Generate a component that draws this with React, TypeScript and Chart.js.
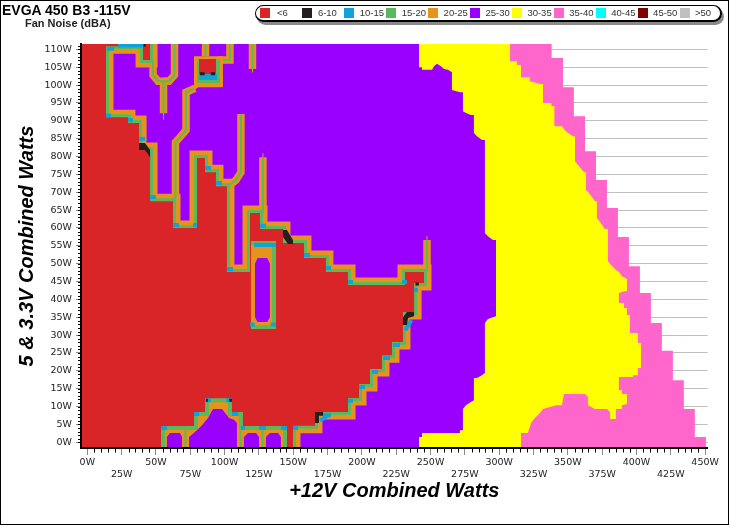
import React, { useEffect, useRef } from "react";
import { Chart, registerables } from "chart.js";

Chart.register(...registerables);

type P = number[];

const legendLabels = ["<6", "6-10", "10-15", "15-20", "20-25", "25-30", "30-35", "35-40", "40-45", "45-50", ">50"];
const legendColors = ["#d92528", "#231f20", "#0fa3d8", "#5cb85c", "#e8921e", "#9900ff", "#ffff00", "#ff66cc", "#00ffff", "#800000", "#c0c0c0"];
const [RED, BLACK, BLUE, GREEN, ORANGE, PURPLE, YELLOW, PINK] = legendColors;

const X_MIN = -4.6, X_MAX = 451.8, Y_MIN = -1.6, Y_MAX = 111.5;

const pinkEdge: P[] = [[450.6,-1.6],[450.6,1.5],[442.5,1.5],[442.5,9.3],[434.5,9.3],[434.5,17.4],[426.5,17.4],[426.5,25.6],[418.5,25.6],[418.5,33.4],[410.5,33.4],[410.5,41.8],[402.5,41.8],[402.5,49.3],[394.5,49.3],[394.5,57.5],[386.5,57.5],[386.5,65.6],[378.5,65.6],[378.5,73.4],[370.5,73.4],[370.5,81.5],[362.5,81.5],[362.5,91.3],[354.4,91.3],[354.4,99.4],[346.5,99.4],[346.5,107.6],[338.2,107.6],[338.2,111.5]];

const yellowEdge: P[] = [[320.9,-1.6],[315.9,-1.6],[315.9,2.6],[320.9,2.6],[323.2,5.4],[325.3,6.5],[329.7,8.2],[331.9,9.3],[341.4,10.4],[345.7,10.4],[347.2,13.5],[362.5,13.5],[364.7,12.7],[364.7,10.4],[369.8,9.3],[378.5,9.3],[380.7,8.5],[380.7,6.5],[385,6.5],[385,9.3],[389.4,9.3],[389.4,10.4],[393.1,10.7],[393.1,13.5],[389.4,13.5],[389.4,14.6],[387.2,14.6],[387.2,18.3],[397.4,18.3],[397.4,18.8],[401,18.8],[401,20.8],[403.3,20.8],[403.3,27.8],[401,27.8],[401,30.6],[395.2,30.6],[395.2,35.6],[393.1,35.6],[393.1,37.6],[390.9,37.6],[390.9,39],[387.2,39],[387.2,41.8],[390.9,42.3],[393.1,42.3],[393.1,45.7],[389.4,46.5],[387.2,47.7],[385,48.2],[381.4,49.6],[379.2,50.7],[379.2,59.7],[377,59.7],[373.4,61.7],[371.2,62.8],[371.2,67.5],[369.8,67.5],[365.4,69.8],[363.2,70.6],[363.2,75.6],[361.8,75.6],[357.4,77.6],[355.2,78.7],[355.2,85.7],[353.8,85.7],[349.4,86.8],[347.2,87.7],[345.7,88.5],[340.2,88.5],[340.2,94.1],[338,94.1],[338,95],[331.9,95],[331.9,100.3],[329.7,100.3],[322.4,101.1],[322.4,102.2],[315.9,102.2],[315.9,105.6],[313,105.6],[313,106.7],[307.9,106.7],[307.9,111.5]];

const purpleEdge: P[] = [[241.6,-1.6],[241.6,1.5],[243.8,1.5],[243.8,2.6],[271.4,2.6],[271.4,3.4],[273.6,3.4],[273.6,9.3],[275.8,10.4],[279.4,11.3],[281.6,11.8],[281.6,18],[283.8,18],[287.5,18.8],[289.6,19.4],[289.6,33.4],[291.8,34.5],[295.5,35],[297.7,35.3],[297.7,56.6],[295.5,56.6],[291.8,57.7],[289.6,58.6],[289.6,84.6],[287.5,84.6],[283.8,85.7],[281.6,86.6],[281.6,91.6],[279.4,91.6],[275.8,92.2],[273.6,92.7],[273.6,98],[271.4,98],[265.6,98.6],[265.6,103.6],[262.7,104.3],[259.8,104.5],[257.6,105.3],[254.7,106],[252.5,105.3],[251.1,104.3],[243.8,104.3],[243.8,105],[241.6,105],[241.6,111.5]];

const redEdge: P[] = [[45.7,111.5],[45.7,107],[40.6,107],[40.6,110.9],[13.6,110.9],[13.6,91],[29.6,91],[29.6,89.4],[37.7,89.4],[37.7,81.8],[45.7,81.8],[45.7,67.5],[62.4,67.5],[62.4,60],[79.9,60],[79.9,79.6],[85.7,79.6],[85.7,75.6],[93.7,75.6],[93.7,71.7],[101.7,71.7],[101.7,47.7],[118.5,47.7],[118.5,64.2],[125.8,64.2],[125.8,59.7],[142.5,59.7],[142.5,55.8],[157.8,55.8],[157.8,51.6],[173.8,51.6],[173.8,47.7],[189.9,47.7],[189.9,44],[231.4,44],[231.4,47.7],[245.2,47.7],[245.2,44.6],[238,44.6],[238,36.5],[229.9,36.5],[229.9,28.1],[221.9,28.1],[221.9,24.4],[214.6,24.4],[214.6,20.5],[205.9,20.5],[205.9,16.3],[197.9,16.3],[197.9,12.4],[189.9,12.4],[189.9,8.5],[165.8,8.5],[165.8,4.6],[149.8,4.6],[149.8,-1.6]];

const spikes: P[][] = [
  [[47.9,107],[47.9,102.8],[51.5,101.1],[55.5,101.1],[55.5,92.1]],
  [[63.5,111.5],[63.5,102.8],[59.5,101.1],[55.5,101.1]],
  [[78.4,99.1],[71.9,98],[71.9,87.4],[68.2,85.7],[64.2,84],[64.2,67.5]],
  [[111.9,91.9],[111.9,75.6],[108.3,73.4],[102.5,71.7]],
  [[120.3,111.5],[120.3,104.5]],
  [[127.9,79.8],[127.9,64.2]],
  [[247.4,56.6],[247.4,47.7]],
  [[86.1,111.5],[86.1,108.1]],
  [[103.9,111.5],[103.9,107],[95,107]],
];
const spikeTails: P[][] = [
  [[55.5,92.1],[55.5,90.4]],
  [[120.3,104.5],[120.3,103.6]],
  [[127.9,79.8],[127.9,81]],
  [[247.4,56.6],[247.4,57.8]],
];

const topPatchOuter: P[] = [[77.7,108.1],[98.8,108.1],[98.8,99.4],[81,99.4],[77.7,98.6]];
const topPatchGreen: P[] = [[79.9,107.3],[96.6,107.3],[96.6,100.6],[79.9,100.6]];
const topPatchBlue: P[] = [[81.4,103.1],[94.5,103.1],[94.5,101.4],[81.4,101.4]];
const topPatchRed: P[] = [[81.4,107.3],[93.7,107.3],[93.7,103.1],[81.4,103.1]];

const islandOuter: P[] = [[119.2,55.8],[136,55.8],[136,32.3],[119.2,32.3]];
const islandInner: P[] = [[122.1,50],[124,51.6],[131,51.6],[133,50],[133,35],[131,33.7],[124,33.7],[122.1,35]];

const humpsOuter: P[] = [[55.1,-1.6],[55.1,4],[79.2,4],[79.2,7.9],[87.2,7.9],[87.2,11.8],[103.9,11.8],[103.9,7.9],[111.9,7.9],[111.9,4],[144,4],[144,-1.6]];
const humpInners: P[][] = [
  [[58,-1.6],[58,1.5],[60.2,2.6],[67.5,2.6],[69,1.5],[69,-1.6]],
  [[74.1,-1.6],[74.1,1.5],[79.9,3.4],[83.5,4.8],[87.9,6.8],[91.5,9.3],[98.1,9.3],[101.7,7.6],[103.2,6.8],[106.8,6.3],[109,5.4],[109,-1.6]],
  [[114.1,-1.6],[114.1,1.5],[117,2.6],[122.9,2.6],[125.1,1.5],[125.1,-1.6]],
  [[130.1,-1.6],[130.1,1.5],[133,2.6],[138.9,2.6],[141,1.5],[141,-1.6]],
];
const humpDividers: P[][] = [
  [[71.5,3.4],[71.5,-1.6]],
  [[111.6,3.4],[111.6,-1.6]],
  [[127.6,3.4],[127.6,-1.6]],
];

const blueMarks: P[][] = [
  [[22.4,111.1],[40.6,111.1]], [[14.3,110.2],[19.4,110.2]], [[13.6,91.5],[17.3,91.5]],
  [[29.6,90.2],[33.3,90.2]], [[37.7,84.9],[42,84.9]], [[45.7,68.7],[50,68.7]],
  [[62.4,60.8],[66.8,60.8]], [[77,60.8],[79.9,60.8]], [[85.7,76.8],[90.1,76.8]],
  [[93.7,72.6],[98.1,72.6]], [[101.7,48.5],[106.1,48.5]], [[125.8,60.6],[130.1,60.6]],
  [[157.8,52.4],[162.2,52.4]], [[173.8,48.8],[177.5,48.8]], [[189.9,44.9],[193.5,44.9]],
  [[229.2,44.9],[232.8,44.9]], [[238,42.6],[240.9,42.6]], [[231.6,31.4],[236,34.2]],
  [[222.6,27.2],[227.7,27.2]], [[215.4,23.6],[220.5,23.6]], [[207.3,19.7],[211.7,19.7]],
  [[197.9,15.5],[202.2,15.5]], [[189.9,11.6],[193.5,11.6]], [[171.7,7.6],[177.5,7.6]],
  [[169.5,6],[175,7.5]], [[149.8,4],[153.4,4]], [[53.7,4],[58,4]],
  [[77.7,7.9],[81.4,7.9]], [[85.7,11.8],[90.1,11.8]], [[101,11.8],[105.4,11.8]],
  [[105.4,7.9],[109.8,7.9]], [[111.9,4],[115,4]], [[125,4],[130.1,4]], [[141,4],[145.4,4]],
  [[121.4,55.2],[137.4,55.2]], [[118.5,33],[122,33]], [[133.5,33],[137.4,33]],
];
const blackWedges: P[][] = [
  [[37.7,83.8],[42,83.8],[45.7,81.8],[45.7,79.8],[42,81.8],[37.7,81.8]],
  [[142.5,59.4],[145.4,59.4],[149.8,56.6],[149.8,55.5],[146.2,55.5],[142.5,57.5]],
  [[229.9,32.8],[229.9,35],[232.8,36.5],[238,36.5],[238,35.3],[233.6,34.8],[232.8,32.8]],
  [[165.8,8.5],[171.7,8.5],[171.7,7.4],[168.7,7.4],[168.7,5.4],[165.8,5.4]],
];
const blackMarks: P[][] = [
  [[86.5,11.8],[87.9,11.8]], [[103.2,11.8],[105.4,11.8]],
  [[239,44.3],[241.5,44.3]], [[41,111.2],[42.5,111.2]], [[82,103.2],[85.5,103.2]], [[90,103.2],[93,103.2]],
];

const tickRows = (v: number): string | string[] => {
  if (v % 25 !== 0) return "";
  return v % 50 === 0 ? `${v}W` : ["", `${v}W`];
};

const toXY = (pts: P[]) => pts.map(([x, y]) => ({ x, y }));
const breakJoin = (marks: P[][]) => marks.flatMap((m) => [...m, [NaN, NaN]]);

const area = (label: string, pts: P[], color: string, stroke = 0, strokeColor = color) => ({
  label, data: toXY(pts), showLine: true, pointRadius: 0, clip: 0, tension: 0,
  fill: "shape", backgroundColor: color, borderColor: strokeColor, borderWidth: stroke,
  borderJoinStyle: "miter", borderCapStyle: "butt", spanGaps: false,
});
const stroke = (label: string, pts: P[], color: string, width: number) => ({
  label, data: toXY(pts), showLine: true, pointRadius: 0, clip: 0, tension: 0, fill: false,
  borderColor: color, backgroundColor: color, borderWidth: width,
  borderJoinStyle: "miter", borderCapStyle: "butt", spanGaps: false,
});

const minorTicks = {
  id: "minorTicks",
  afterDraw(chart: any) {
    const { ctx, scales } = chart;
    const { x, y } = scales;
    ctx.save();
    ctx.strokeStyle = "#000";
    ctx.lineWidth = 1;
    ctx.beginPath();
    for (let v = 5; v <= 450; v += 5) {
      if (v % 25 === 0) continue;
      const px = Math.round(x.getPixelForValue(v)) + 0.5;
      ctx.moveTo(px, y.bottom);
      ctx.lineTo(px, y.bottom + 4.5);
    }
    for (let v = 0; v <= 111; v += 1) {
      const py = Math.round(y.getPixelForValue(v)) + 0.5;
      ctx.moveTo(x.left - 3, py);
      ctx.lineTo(x.left, py);
    }
    ctx.stroke();
    ctx.restore();
  },
};

export default function App() {
  const ref = useRef<HTMLCanvasElement | null>(null);
  useEffect(() => {
    if (!ref.current) return;
    const fullLeft: P[] = [[X_MIN, Y_MAX], [X_MIN, Y_MIN]];
    const layers: any[] = [
      area("35-40", [...pinkEdge, ...fullLeft], PINK),
      area("30-35", [...yellowEdge, ...fullLeft], YELLOW),
      area("25-30", [...purpleEdge, ...fullLeft], PURPLE),
      ...spikes.map((s, i) => stroke(`20-25 ridge ${i}`, s, ORANGE, 7.5)),
      ...spikeTails.map((s, i) => stroke(`20-25 tail ${i}`, s, ORANGE, 1)),
      stroke("20-25 edge", redEdge, ORANGE, 15),
      stroke("15-20 edge", redEdge, GREEN, 6),
      ...spikes.map((s, i) => stroke(`15-20 ridge ${i}`, s, GREEN, 2)),
      area("<6", [...redEdge, [X_MIN, Y_MIN], [X_MIN, Y_MAX]], RED),
      area("top patch 20-25", topPatchOuter, ORANGE),
      area("top patch 15-20", topPatchGreen, GREEN),
      area("top patch 10-15", topPatchBlue, BLUE),
      area("top patch <6", topPatchRed, RED),
      area("island 20-25", islandOuter, ORANGE, 4, GREEN),
      area("island 25-30", islandInner, PURPLE),
      area("humps 20-25", humpsOuter, ORANGE, 4, GREEN),
      ...humpInners.map((h, i) => area(`hump ${i}`, h, PURPLE)),
      ...humpDividers.map((d, i) => stroke(`hump divider ${i}`, d, GREEN, 2)),
      stroke("10-15", breakJoin(blueMarks), BLUE, 4),
      ...blackWedges.map((w, i) => area(`6-10 ${i}`, w, BLACK)),
      stroke("6-10", breakJoin(blackMarks), BLACK, 3),
    ];
    const chart = new Chart(ref.current, {
      type: "scatter",
      data: { datasets: layers.reverse() },
      plugins: [minorTicks],
      options: {
        responsive: false,
        animation: false,
        events: [],
        layout: { padding: { left: 0, top: 44, right: 21.4, bottom: 0 } },
        plugins: { legend: { display: false }, title: { display: false }, tooltip: { enabled: false } },
        scales: {
          x: {
            type: "linear",
            min: X_MIN,
            max: X_MAX,
            afterFit: (s: any) => { s.height = 77; },
            border: { color: "#000", width: 2, z: 1 },
            grid: {
              drawOnChartArea: false,
              tickLength: 7,
              tickColor: (c: any) => (c.tick && c.tick.value % 25 === 0 ? "#8a8a8a" : "rgba(0,0,0,0)"),
            },
            ticks: {
              stepSize: 5,
              includeBounds: false,
              autoSkip: false,
              maxRotation: 0,
              minRotation: 0,
              padding: 2,
              color: "#222",
              font: { family: "'DejaVu Sans'", size: 9.5 },
              callback: (v: any) => tickRows(Number(v)),
            },
            title: {
              display: true,
              text: "+12V Combined Watts",
              color: "#000",
              font: { family: "'Liberation Sans'", size: 20, weight: "bold", style: "italic" },
              padding: { top: 0, bottom: 22 },
            },
          },
          y: {
            type: "linear",
            min: Y_MIN,
            max: Y_MAX,
            afterFit: (s: any) => { s.width = 81; },
            border: { color: "#000", width: 2, z: 1 },
            grid: { color: "#bfbfbf", lineWidth: 1, tickLength: 5, tickColor: "#8a8a8a" },
            ticks: {
              stepSize: 5,
              includeBounds: false,
              autoSkip: false,
              padding: 4,
              color: "#222",
              font: { family: "'DejaVu Sans'", size: 9.5 },
              callback: (v: any) => `${v}W`,
            },
            title: {
              display: true,
              text: "5 & 3.3V Combined Watts",
              color: "#000",
              font: { family: "'Liberation Sans'", size: 20, weight: "bold", style: "italic" },
              padding: { top: 15, bottom: 0 },
            },
          },
        },
      } as any,
    } as any);
    return () => chart.destroy();
  }, []);

  return (
    <div style={{ position: "absolute", left: 0, top: 0, width: 729, height: 525, background: "#fff", overflow: "hidden" }}>
      <canvas ref={ref} width={729} height={525} style={{ position: "absolute", left: 0, top: 0, display: "block" }} />
      <div style={{ position: "absolute", left: 0, top: 0, width: 729, height: 525, boxSizing: "border-box", border: "1px solid #000", pointerEvents: "none" }} />
      <div style={{ position: "absolute", left: 2, top: 2, font: "bold 14px 'Liberation Sans'", lineHeight: "16px", color: "#000", whiteSpace: "nowrap" }}>EVGA 450 B3 -115V</div>
      <div style={{ position: "absolute", left: 25, top: 17, font: "bold 11px 'Liberation Sans'", lineHeight: "13px", color: "#222", whiteSpace: "nowrap" }}>Fan Noise (dBA)</div>
      <div style={{ position: "absolute", left: 255, top: 5, width: 467, height: 17, boxSizing: "border-box", border: "1px solid #000", borderRadius: 9, borderRightWidth: 2, borderBottomWidth: 2, background: "#fff", boxShadow: "2px 3px 0 #8a8a8a" }} />
      {legendLabels.map((t, i) => (
        <React.Fragment key={t}>
          <div style={{ position: "absolute", left: 260 + 42 * i, top: 8, width: 10, height: 10, background: legendColors[i] }} />
          <div style={{ position: "absolute", left: 277 + 41.9 * i - (i === 0 ? 0 : 1), top: 7, font: "9.5px 'Liberation Sans'", lineHeight: "12px", color: "#333", whiteSpace: "nowrap" }}>{t}</div>
        </React.Fragment>
      ))}
    </div>
  );
}
